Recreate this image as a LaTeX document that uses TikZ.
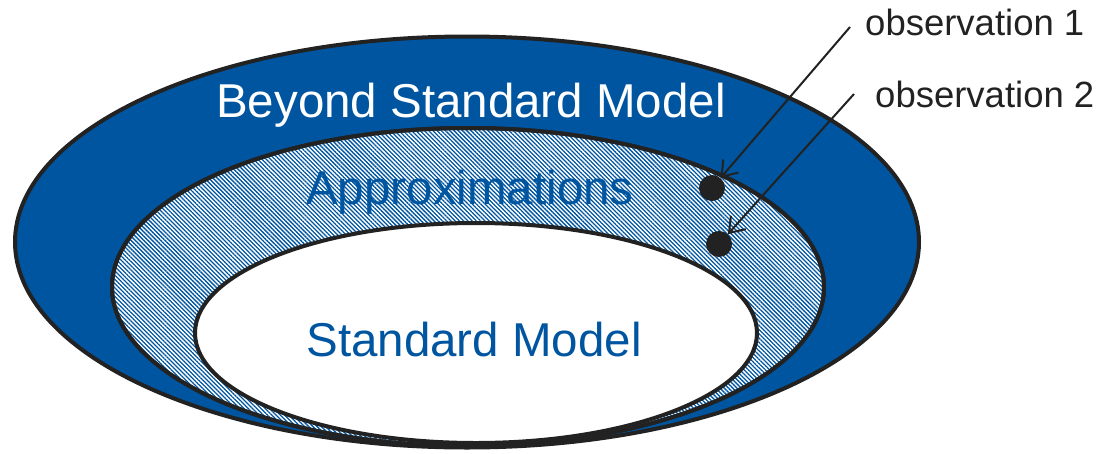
\documentclass[tikz,border=0pt]{standalone}
\usepackage{fontspec}
\setmainfont{Liberation Sans}
\usetikzlibrary{shapes.geometric,arrows.meta,patterns.meta}
\definecolor{bsmblue}{HTML}{0055A0}
\definecolor{ink}{HTML}{222222}
\tikzset{
  ring/.style={ellipse, draw=ink, line width=4pt, inner sep=0pt},
  bigtext/.style={font=\fontsize{47.5}{52}\selectfont, inner sep=0pt},
  obslabel/.style={font=\fontsize{36.5}{40}\selectfont, text=ink, inner sep=0pt, anchor=base west},
  dot/.style={circle, fill=ink, minimum size=26pt, inner sep=0pt},
  pointer/.style={draw=ink, line width=2pt, -{Straight Barb[length=14pt, width=20pt, line width=2pt]}}
}
\begin{document}
\begin{tikzpicture}[x=1pt, y=-1pt]
  \useasboundingbox (0,0) rectangle (1103,453);
  % nested regions
  \node[ring, fill=bsmblue, minimum width=904pt, minimum height=411pt] (bsm) at (467,242) {};
  \node[ring, fill=white, minimum width=712pt, minimum height=318pt] (approxbg) at (468,287) {};
  \node[ring, pattern={Lines[angle=-45, distance=3pt, line width=1.3pt]}, pattern color=bsmblue,
        minimum width=712pt, minimum height=318pt] (approx) at (468,287) {};
  \node[ring, fill=white, minimum width=562pt, minimum height=220pt] (sm) at (476,333) {};
  % region names
  \node[bigtext, text=white, anchor=base] (bsmtext) at (471,117) {Beyond Standard Model};
  \node[bigtext, text=bsmblue, anchor=base] (approxtext) at (470,204) {Approximations};
  \node[bigtext, text=bsmblue, anchor=base] (smtext) at (474,356) {Standard Model};
  % observations
  \node[dot] (dot1) at (712,188) {};
  \node[dot] (dot2) at (719,244) {};
  \node[obslabel] (obs1) at (865,35) {observation 1};
  \node[obslabel] (obs2) at (875,107) {observation 2};
  \coordinate (from1) at (850,27);
  \coordinate (from2) at (854,94);
  \draw[pointer] (from1) -- (dot1);
  \draw[pointer] (from2) -- (dot2);
\end{tikzpicture}
\end{document}
